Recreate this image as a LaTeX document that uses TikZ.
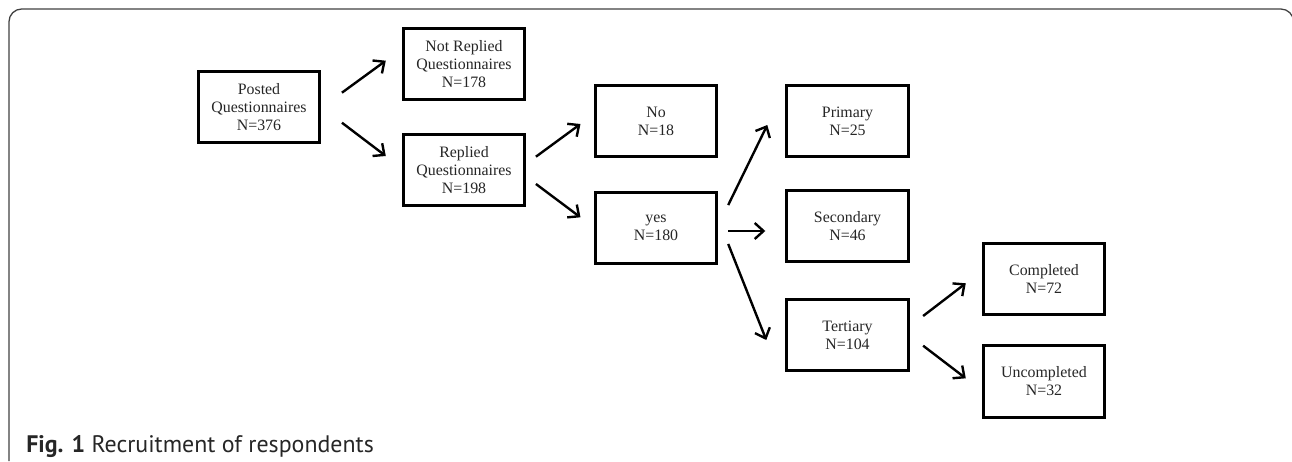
\documentclass[tikz,border=0pt]{standalone}
\usepackage{fontspec}
\setmainfont{Liberation Serif}
\newfontfamily\capfont{PT Sans}
\usetikzlibrary{calc,arrows.meta}

\begin{document}
\begin{tikzpicture}[x=0.025cm,y=-0.025cm,
        box/.style={draw,line width=2pt,minimum width=3.04cm,minimum height=1.78cm,inner sep=0pt,align=center,text=black!85,font=\fontsize{11.3}{12.8}\selectfont},
        >={Straight Barb[length=2.2mm,width=4mm]}]
        \useasboundingbox (0,0) rectangle (1292,461);
        % frame and caption
        \draw [black!75,line width=0.9pt,rounded corners=9] (9,461) -- (9,9) -- (1293.5,9) -- (1293.5,461) ;
        \node[anchor=base west,inner sep=0pt,text=black!85,font=\capfont\fontsize{17}{19}\selectfont] (cap) at (26,452) {\textbf{Fig. 1} Recruitment of respondents};

        \node[box] (p) at (259,107) {Posted\\Questionnaires\\N=376};
        \node[box] (nr) at (464,64) {Not Replied\\Questionnaires\\N=178};
        \node[box] (r) at (464,170) {Replied\\Questionnaires\\N=198};
        \node[box] (no) at (656,121) {No\\N=18};
        \node[box] (yes) at (656,228) {yes\\N=180};
        \node[box] (pri) at (847.5,121) {Primary\\N=25};
        \node[box] (sec) at (847.5,226) {Secondary\\N=46};
        \node[box] (ter) at (847.5,335) {Tertiary\\N=104};
        \node[box] (com) at (1044,279) {Completed\\N=72};
        \node[box] (unc) at (1044,381.5) {Uncompleted\\N=32};

        \draw [->,line width=1.7pt] ($(p.east)+(20.7,-14.3)$) -- ($(nr.west)+(-16,-3.3)$) ;
        \draw [->,line width=1.7pt] ($(p.east)+(20.7,15.7)$) -- ($(r.west)+(-16,-14)$) ;
        \draw [->,line width=1.7pt] ($(r.east)+(9.7,-13.3)$) -- ($(no.west)+(-13.3,3)$) ;
        \draw [->,line width=1.7pt] ($(r.east)+(9.7,14)$) -- ($(yes.west)+(-13.3,-10.7)$) ;
        \draw [->,line width=1.7pt] ($(yes.east)+(10,-23)$) -- ($(pri.west)+(-18,4)$) ;
        \draw [->,line width=1.7pt] ($(yes.east)+(10,3)$) -- ($(sec.west)+(-20,5)$) ;
        \draw [->,line width=1.7pt] ($(yes.east)+(10,16)$) -- ($(ter.west)+(-19,5)$) ;
        \draw [->,line width=1.7pt] ($(ter.east)+(13.4,-19)$) -- ($(com.west)+(-16,4.3)$) ;
        \draw [->,line width=1.7pt] ($(ter.east)+(13.4,10.7)$) -- ($(unc.west)+(-16,-3.2)$) ;
\end{tikzpicture}
\end{document}
